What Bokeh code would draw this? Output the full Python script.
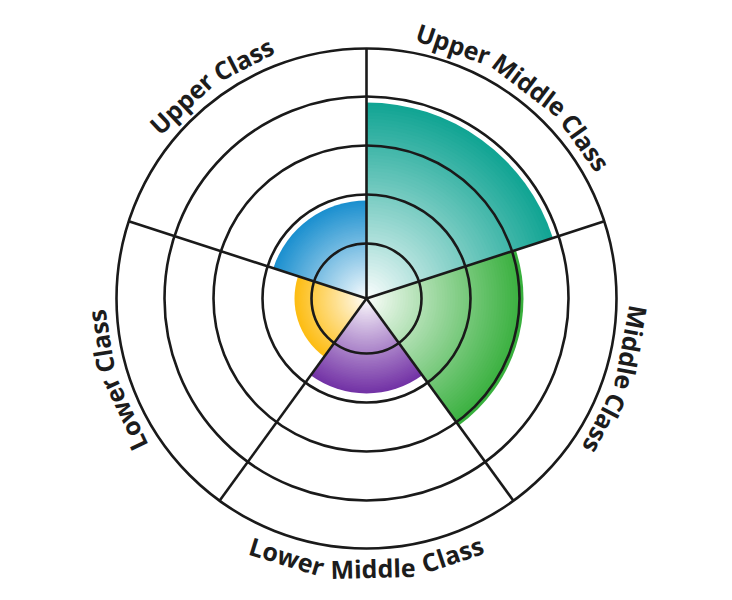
import numpy as np
from bokeh.plotting import figure
from bokeh.models import ColumnDataSource
from bokeh.core.properties import value
from bokeh.embed import file_html
from bokeh.resources import INLINE

# ---- data ----
categories = ["Upper Middle Class", "Middle Class", "Lower Middle Class", "Lower Class", "Upper Class"]
values = [196, 157, 95, 72, 98]
colors = ["#10a493", "#36af3c", "#7231a5", "#fdbd12", "#1a8fcf"]
ring_values = [55, 104, 153, 202, 250]

# ---- figure: 1 data unit = 1 px ----
W, H = 724, 590
CX, CY = 366, 298
p = figure(width=W, height=H, x_range=(-CX, W - CX), y_range=(-(H - CY), CY),
           output_backend="svg", toolbar_location=None,
           x_axis_location=None, y_axis_location=None, min_border=0,
           outline_line_color=None)
p.grid.visible = False
p.background_fill_color = "white"
p.border_fill_color = "white"

n = len(categories)
step = 2 * np.pi / n


def mix(hex_color, t):
    h = hex_color.lstrip("#")
    rgb = [int(h[i:i + 2], 16) for i in (0, 2, 4)]
    out = [round(255 + (c - 255) * t) for c in rgb]
    return "#%02x%02x%02x" % tuple(out)


# ---- gradient sectors (stacked wedges, largest first) ----
N = 60
rows = dict(r=[], a0=[], a1=[], c=[])
for i, (v, col) in enumerate(zip(values, colors)):
    a1 = np.pi / 2 - i * step
    a0 = a1 - step
    for k in range(N, 0, -1):
        t = ((k - 0.5) / N) ** 0.9
        rows["r"].append(v * k / N)
        rows["a0"].append(a0)
        rows["a1"].append(a1)
        rows["c"].append(mix(col, t))
src = ColumnDataSource(rows)
p.wedge(x=0, y=0, radius="r", start_angle="a0", end_angle="a1",
        fill_color="c", line_color=None, source=src)

# ---- grid rings and spokes ----
LINE = "#1a1a1a"
p.circle(x=[0] * len(ring_values), y=[0] * len(ring_values), radius=ring_values,
         fill_color=None, line_color=LINE, line_width=2.6)
R_out = ring_values[-1]
ang = [np.pi / 2 - i * step for i in range(n)]
p.segment(x0=[0] * n, y0=[0] * n,
          x1=[R_out * np.cos(a) for a in ang], y1=[R_out * np.sin(a) for a in ang],
          line_color=LINE, line_width=2.6)

# ---- curved labels (word by word along the outer ring) ----
FS = 25
cw = {"U": .73, "p": .62, "e": .58, "r": .44, "M": .93, "i": .29, "d": .62,
      "l": .29, "C": .61, "a": .59, "s": .50, "L": .55, "o": .61, "w": .83}
GAP = 8
R_MID = 269.5

lx, ly, lt, la = [], [], [], []
for i, cat in enumerate(categories):
    th_mid = np.pi / 2 - (i + 0.5) * step
    th_mid = np.arctan2(np.sin(th_mid), np.cos(th_mid))
    words = cat.split()
    widths = [sum(cw.get(ch, .6) for ch in w) * FS for w in words]
    total = sum(widths) + GAP * (len(words) - 1)
    flip = -np.deg2rad(150) < th_mid < -np.deg2rad(30)
    rb = R_MID
    s = -total / 2
    for w, wd in zip(words, widths):
        sc = s + wd / 2
        if flip:
            th = th_mid + sc / rb
            rot = th + np.pi / 2
        else:
            th = th_mid - sc / rb
            rot = th - np.pi / 2
        lx.append(rb * np.cos(th))
        ly.append(rb * np.sin(th))
        lt.append(w)
        la.append(rot)
        s += wd + GAP

p.text(x=lx, y=ly, text=lt, angle=la, text_align="center", text_baseline="middle",
       text_font=value("Open Sans"), text_font_style="bold",
       text_font_size="25px", text_color="#1c1c1c")

open("out.html", "w").write(file_html(p, INLINE))
